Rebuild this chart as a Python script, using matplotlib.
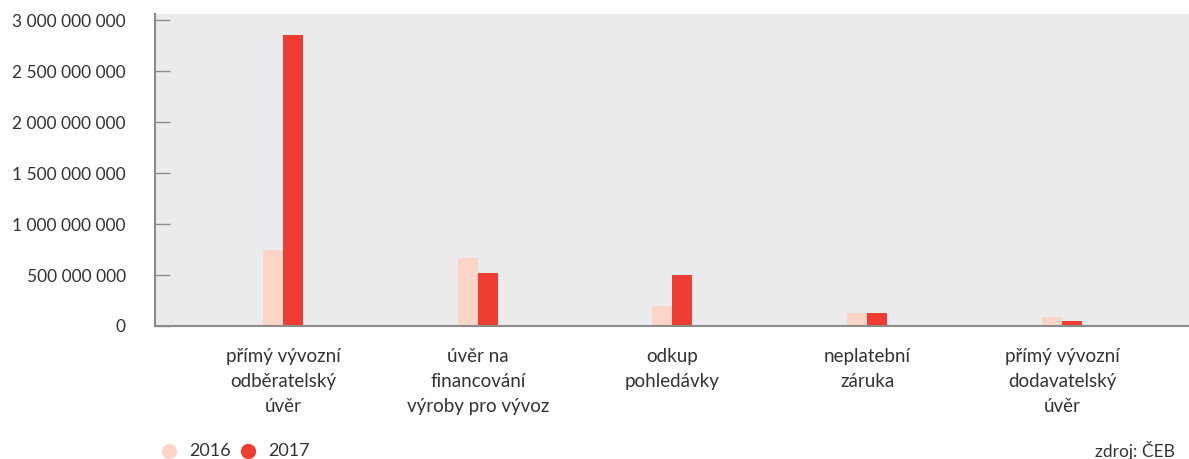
import matplotlib.pyplot as plt
import numpy as np
from matplotlib.lines import Line2D

plt.rcParams["font.family"] = ["Lato", "DejaVu Sans"]

categories = [
    "přímý vývozní\nodběratelský\núvěr",
    "úvěr na\nfinancování\nvýroby pro vývoz",
    "odkup\npohledávky",
    "neplatební\nzáruka",
    "přímý vývozní\ndodavatelský\núvěr",
]
values_2016 = [745e6, 667e6, 196e6, 125e6, 88e6]
values_2017 = [2853e6, 520e6, 500e6, 127e6, 50e6]
years = ["2016", "2017"]
yticks = [0, 500e6, 1000e6, 1500e6, 2000e6, 2500e6, 3000e6]

c16 = "#fbd5c8"
c17 = "#ee3e33"
text_c = "#333333"
W, H = 1189, 459

fig = plt.figure(figsize=(W / 100, H / 100), dpi=100, facecolor="white")
ax = fig.add_axes([155 / W, 133 / H, 1034 / W, 312 / H])
ax.set_facecolor("#ebebed")

x = np.arange(len(categories))
w = 0.1027
ax.bar(x - w / 2, values_2016, w, color=c16, linewidth=0)
ax.bar(x + w / 2, values_2017, w, color=c17, linewidth=0)

ax.set_xlim(-0.657, 4.652)
ax.set_ylim(0, 3.059e9)

for s in ["top", "right"]:
    ax.spines[s].set_visible(False)
for s in ["left", "bottom"]:
    ax.spines[s].set_color("#8c8c8c")
    ax.spines[s].set_linewidth(1.5)

ax.set_yticks(yticks)
ax.set_yticklabels([f"{int(v):,}".replace(",", " ") for v in yticks])
ax.tick_params(axis="y", direction="in", length=11, width=1, color="#8c8c8c",
               pad=21, labelsize=12.5, labelcolor=text_c)
ax.set_xticks(x)
ax.set_xticklabels(categories, linespacing=1.55)
ax.tick_params(axis="x", length=0, pad=16, labelsize=13.5, labelcolor=text_c)

# legend drawn by hand: dot + year label
legend_x = [169, 248]
legend_y = 451
for lx, year, c in zip(legend_x, years, (c16, c17)):
    fig.add_artist(Line2D([lx / W], [1 - legend_y / H], marker="o", markersize=10,
                          markerfacecolor=c, markeredgecolor=c, linestyle="",
                          transform=fig.transFigure))
    fig.text((lx + 20) / W, 1 - legend_y / H, year, ha="left", va="center",
             fontsize=13, color=text_c)

fig.text(1175 / W, 1 - legend_y / H, "zdroj: ČEB", ha="right", va="center",
         fontsize=12.5, color=text_c)

fig.savefig("out.png", dpi=100, facecolor="white")
